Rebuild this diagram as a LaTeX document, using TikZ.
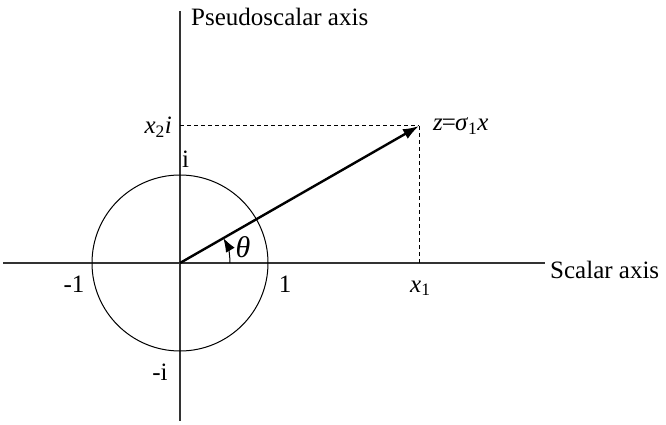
\documentclass[tikz,border=0pt]{standalone}
\usepackage{fontspec}
\setmainfont{Liberation Serif}
\usetikzlibrary{arrows.meta}
\begin{document}
\begin{tikzpicture}[x=1pt,y=-1pt,
  lbl/.style={inner sep=0pt,font=\fontsize{25}{29}\selectfont},
  axis/.style={line width=1.2pt,black!80},
  thin/.style={line width=1pt},
  dashline/.style={line width=1pt,dash pattern=on 4pt off 3pt},
  vec/.style={line width=2.4pt,-{Latex[length=16pt,width=11pt]}},
  angarrow/.style={line width=1pt,-{Latex[length=14pt,width=10pt]}}]
\useasboundingbox (0,0) rectangle (666,425);
\coordinate (O) at (180,263);
\coordinate (L) at (3,263);
\coordinate (R) at (545,263);
\coordinate (T) at (180,11);
\coordinate (B) at (180,421);
\coordinate (Z) at (419,126);
\coordinate (Y) at (180,126);
\coordinate (X) at (419,263);
% axes
\draw[axis] (L) -- (R);
\draw[axis] (T) -- (B);
% unit circle
\draw[thin] (O) circle[radius=88];
% dashed projections
\draw[dashline] (Y) -- (Z);
\draw[dashline] (Z) -- (X);
% vector
\draw[vec] (O) -- (Z);
% angle arc
\draw[angarrow] ([shift={(0:50)}]O) arc[start angle=0,end angle=-30,radius=50];
% labels
\node[lbl,anchor=base west] (pa) at (191,26) {Pseudoscalar axis};
\node[lbl,anchor=base west] (sa) at (550,278) {Scalar axis};
\node[lbl,anchor=base east] (x2) at (172,134) {\textit{x}\textsubscript{2}\textit{i}};
\node[lbl,anchor=base west] (iu) at (182,167) {i};
\node[lbl,anchor=base] (m1) at (74,292) {-1};
\node[lbl,anchor=base] (p1) at (285,292) {1};
\node[lbl,anchor=base west] (x1) at (410,292) {\textit{x}\textsubscript{1}};
\node[lbl,anchor=base] (mi) at (160,380) {-i};
\node[lbl,anchor=base west] (zl) at (433,131) {\textit{z}\kern-1pt=\kern-1pt\textit{σ}\textsubscript{1}\textit{x}};
\node[lbl,anchor=base,font=\fontsize{30}{34}\selectfont] (th) at (243,257) {\textit{θ}};
\end{tikzpicture}
\end{document}
